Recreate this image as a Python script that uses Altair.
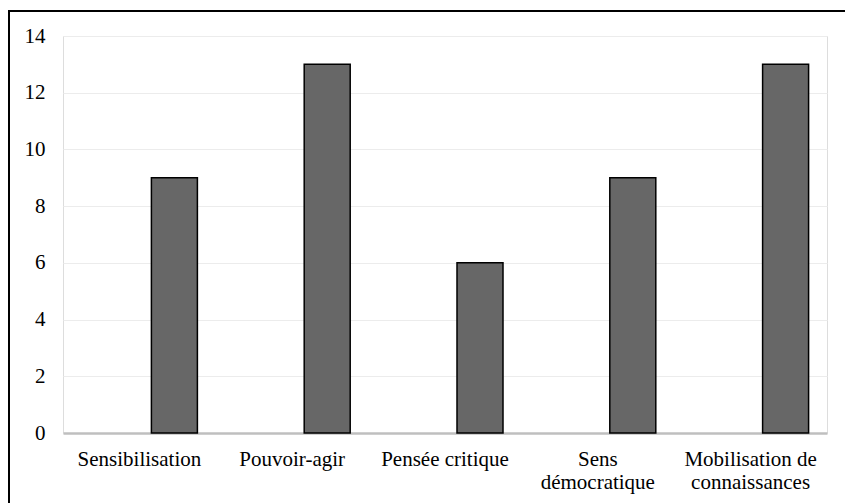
import altair as alt
import pandas as pd

categories = ["Sensibilisation", "Pouvoir-agir", "Pensée critique",
              "Sens\ndémocratique", "Mobilisation de\nconnaissances"]
values = [9, 13, 6, 9, 13]
y_ticks = [0, 2, 4, 6, 8, 10, 12, 14]

df = pd.DataFrame({"cat": categories, "val": values})

FONT = "Liberation Serif"

bars = alt.Chart(df).mark_bar(
    width=46, xOffset=35, color="#676767", stroke="#000000", strokeWidth=1.5
).encode(
    x=alt.X("cat:N", sort=None, title=None,
            scale=alt.Scale(paddingInner=0, paddingOuter=0),
            axis=alt.Axis(labelAngle=0, labelExpr="split(datum.label, '\\n')",
                          labelFont=FONT, labelFontSize=21, labelColor="#000000",
                          labelLineHeight=23, labelPadding=15, labelBaseline="top",
                          ticks=False, grid=False,
                          domainColor="#bfbfbf", domainWidth=2.5)),
    y=alt.Y("val:Q", title=None,
            scale=alt.Scale(domain=[0, 14], nice=False),
            axis=alt.Axis(values=y_ticks, labelFont=FONT, labelFontSize=21,
                          labelColor="#000000", labelPadding=18, ticks=False,
                          domain=False, grid=True,
                          gridColor="#ececec", gridWidth=1)),
)

frame_left = alt.Chart(df).mark_rule(color="#000000", strokeWidth=2).encode(
    x=alt.value(-54), y=alt.value(-25), y2=alt.value(480))
frame_top = alt.Chart(df).mark_rule(color="#000000", strokeWidth=2).encode(
    x=alt.value(-55), x2=alt.value(800), y=alt.value(-25))

chart = alt.layer(bars, frame_left, frame_top).properties(
    width=764, height=397,
    autosize=alt.AutoSizeParams(type="none"),
    padding={"left": 63, "top": 36, "right": 18, "bottom": 70},
)

chart.save("out.html", embed_options={"renderer": "svg", "actions": False})
